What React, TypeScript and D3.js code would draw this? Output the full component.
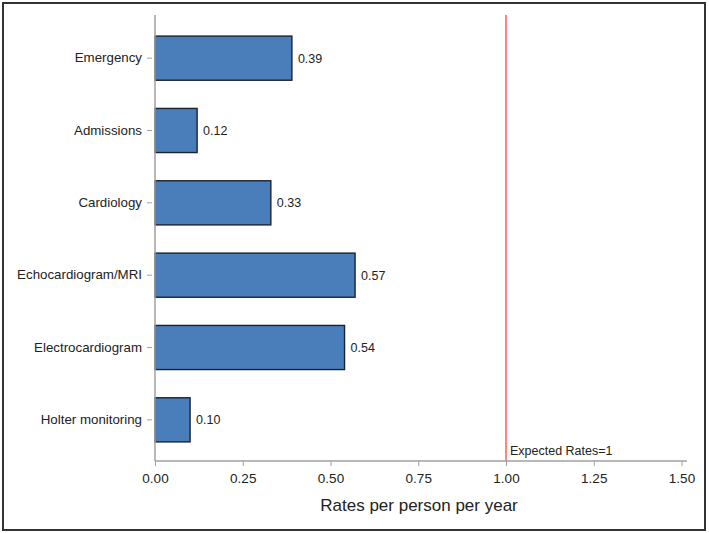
import React, { FC } from 'react';
import * as d3 from 'd3';

const categories = [
  'Emergency',
  'Admissions',
  'Cardiology',
  'Echocardiogram/MRI',
  'Electrocardiogram',
  'Holter monitoring',
];
const rates = [0.39, 0.12, 0.33, 0.57, 0.54, 0.1];
const xTicks = [0, 0.25, 0.5, 0.75, 1, 1.25, 1.5];
const expectedRate = 1;
const expectedLabel = 'Expected Rates=1';
const xTitle = 'Rates per person per year';

const WIDTH = 709;
const HEIGHT = 533;

const App: FC = () => {
  return (
    <div
      style={{ position: 'absolute', left: 0, top: 0 }}
      ref={(elem) => {
        if (!elem) {
          return;
        }
        const svg = chart(categories, rates, WIDTH, HEIGHT);
        if (!svg) {
          return;
        }
        elem.innerHTML = '';
        elem.appendChild(svg);
      }}
    />
  );
};

const chart = (yData: string[], xData: number[], width: number, height: number) => {
  const margin = { top: 15, bottom: 461, left: 155, right: 687 };
  const font = '"Liberation Sans", Arial, sans-serif';

  const x = d3.scaleLinear().domain([0, 1.5]).range([margin.left, 681.5]);

  const y = d3
    .scaleBand()
    .domain(yData)
    .range([22, 456])
    .paddingInner(0.39)
    .paddingOuter(0.195);

  const svg = d3
    .create('svg')
    .attr('width', width)
    .attr('height', height)
    .attr('viewBox', `0 0 ${width} ${height}`)
    .style('display', 'block')
    .style('font-family', font);

  svg.append('rect').attr('width', width).attr('height', height).attr('fill', '#fff');

  // outer frame
  svg
    .append('rect')
    .attr('x', 3)
    .attr('y', 3)
    .attr('width', 702)
    .attr('height', 527)
    .attr('fill', 'none')
    .attr('stroke', '#333')
    .attr('stroke-width', 2);

  // bars
  svg
    .append('g')
    .selectAll('rect')
    .data(xData)
    .join('rect')
    .attr('x', x(0))
    .attr('y', (d, i) => y(yData[i]) as number)
    .attr('width', (d) => x(d) - x(0))
    .attr('height', y.bandwidth())
    .attr('fill', '#4a7ebb')
    .attr('stroke', '#1c2330')
    .attr('stroke-width', 1.4);

  // value labels
  svg
    .append('g')
    .selectAll('text')
    .data(xData)
    .join('text')
    .attr('x', (d) => x(d) + 6)
    .attr('y', (d, i) => (y(yData[i]) as number) + y.bandwidth() / 2)
    .attr('dy', '0.35em')
    .attr('font-size', 12.5)
    .attr('fill', '#222')
    .text((d) => d.toFixed(2));

  // reference line
  svg
    .append('line')
    .attr('x1', x(expectedRate))
    .attr('x2', x(expectedRate))
    .attr('y1', margin.top)
    .attr('y2', margin.bottom)
    .attr('stroke', '#ff8585')
    .attr('stroke-width', 2);

  svg
    .append('text')
    .attr('x', x(expectedRate) + 4)
    .attr('y', 455)
    .attr('font-size', 12.5)
    .attr('fill', '#222')
    .text(expectedLabel);

  // x axis
  svg
    .append('g')
    .call((g) =>
      g
        .attr('transform', `translate(0,${margin.bottom})`)
        .call(
          d3
            .axisBottom(x)
            .tickValues(xTicks)
            .tickSize(5)
            .tickPadding(7)
            .tickFormat((d) => (d as number).toFixed(2)),
        )
        .call((g) => g.select('.domain').remove())
        .call((g) => g.selectAll('.tick line').attr('stroke', '#a0a0a0'))
        .call((g) =>
          g
            .selectAll('.tick text')
            .attr('font-size', 13.5)
            .attr('font-family', font)
            .attr('fill', '#222'),
        ),
    );
  svg
    .append('line')
    .attr('x1', margin.left)
    .attr('x2', margin.right)
    .attr('y1', margin.bottom)
    .attr('y2', margin.bottom)
    .attr('stroke', '#a0a0a0')
    .attr('stroke-width', 1.5);

  svg
    .append('text')
    .attr('x', (margin.left + margin.right) / 2 - 2)
    .attr('y', 511)
    .attr('text-anchor', 'middle')
    .attr('font-size', 17)
    .attr('fill', '#222')
    .text(xTitle);

  // y axis
  svg.append('g').call((g) =>
    g
      .attr('transform', `translate(${margin.left},0)`)
      .call(d3.axisLeft(y).tickSize(0).tickPadding(13))
      .call((g) => g.select('.domain').remove())
      .call((g) =>
        g
          .selectAll('.tick text')
          .attr('font-size', 13.3)
          .attr('font-family', font)
          .attr('fill', '#222'),
      )
      .call((g) =>
        g
          .selectAll('.tick')
          .append('line')
          .attr('x1', -8)
          .attr('x2', -3)
          .attr('stroke', '#a0a0a0'),
      ),
  );
  svg
    .append('line')
    .attr('x1', margin.left)
    .attr('x2', margin.left)
    .attr('y1', margin.top)
    .attr('y2', margin.bottom)
    .attr('stroke', '#a0a0a0')
    .attr('stroke-width', 1.5);

  return svg.node();
};

export default App;
